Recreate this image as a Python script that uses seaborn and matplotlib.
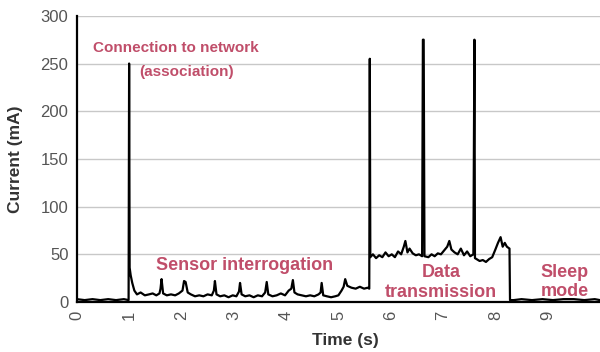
import matplotlib
matplotlib.use("Agg")
import matplotlib.pyplot as plt
import seaborn as sns
import pandas as pd

# ---- data (time in s, current in mA) ----
time_idle = [0.00, 0.15, 0.30, 0.45, 0.60, 0.75, 0.90, 0.99]
current_idle = [3, 2, 3, 2, 3, 2, 3, 2]

time_assoc = [1.00, 1.01, 1.03, 1.06, 1.10]
current_assoc = [250, 36, 28, 20, 12]

time_sensor = [1.15, 1.22, 1.30, 1.38, 1.45, 1.52, 1.58, 1.60, 1.62, 1.65,
               1.72, 1.80, 1.88, 1.95, 2.02, 2.05, 2.08, 2.12, 2.18, 2.26,
               2.34, 2.42, 2.50, 2.58, 2.62, 2.64, 2.67, 2.74, 2.82, 2.90,
               2.98, 3.05, 3.10, 3.12, 3.15, 3.22, 3.30, 3.38, 3.46, 3.54,
               3.60, 3.63, 3.66, 3.74, 3.82, 3.90, 3.98, 4.05, 4.10, 4.13,
               4.16, 4.22, 4.30, 4.38, 4.46, 4.54, 4.62, 4.66, 4.68, 4.71,
               4.78, 4.86, 4.94, 5.00, 5.06, 5.10, 5.13, 5.17, 5.25, 5.33,
               5.41, 5.49, 5.56, 5.59]
current_sensor = [8, 10, 7, 8, 9, 7, 9, 14, 24, 9,
                  7, 8, 7, 9, 12, 22, 21, 10, 8, 6,
                  7, 6, 8, 7, 12, 22, 8, 6, 7, 5,
                  7, 6, 11, 20, 8, 6, 7, 5, 7, 6,
                  10, 21, 8, 6, 7, 9, 7, 12, 14, 23,
                  10, 8, 7, 6, 7, 6, 8, 10, 20, 7,
                  6, 5, 6, 7, 12, 16, 24, 17, 15, 14,
                  16, 14, 15, 14]

time_tx = [5.60, 5.61, 5.66, 5.72, 5.78, 5.84, 5.90, 5.96, 6.02, 6.08,
           6.14, 6.20, 6.25, 6.28, 6.32, 6.36, 6.42, 6.48, 6.54, 6.60,
           6.615, 6.630, 6.645, 6.72, 6.78, 6.84, 6.90, 6.96, 7.02, 7.08,
           7.12, 7.16, 7.22, 7.28, 7.34, 7.40, 7.46, 7.52, 7.58, 7.60,
           7.61, 7.64, 7.70, 7.76, 7.82, 7.88, 7.94, 8.00, 8.05, 8.10,
           8.14, 8.18, 8.22, 8.27]
current_tx = [255, 47, 50, 46, 49, 47, 52, 48, 50, 47,
              53, 50, 58, 64, 52, 56, 51, 49, 50, 48,
              275, 275, 48, 47, 50, 48, 51, 50, 54, 58,
              64, 55, 52, 50, 56, 49, 53, 48, 50, 275,
              46, 45, 43, 44, 42, 45, 47, 55, 62, 68,
              58, 62, 58, 56]

time_sleep = [8.28, 8.35, 8.50, 8.70, 8.90, 9.10, 9.30, 9.50, 9.70, 9.90, 10.00]
current_sleep = [2, 2, 3, 2, 3, 2, 3, 3, 2, 3, 2]

x_ticks = [0, 1, 2, 3, 4, 5, 6, 7, 8, 9]
y_ticks = [0, 50, 100, 150, 200, 250, 300]

df = pd.DataFrame({
    "t": time_idle + time_assoc + time_sensor + time_tx + time_sleep,
    "i": current_idle + current_assoc + current_sensor + current_tx + current_sleep,
})

sns.set_style("white")
plt.rcParams["font.family"] = ["Liberation Sans", "DejaVu Sans"]

fig = plt.figure(figsize=(6.0, 3.52), dpi=100)
ax = fig.add_axes([0.128, 0.142, 0.872, 0.813])

ax.yaxis.grid(True, color="#c8c8c8", linewidth=1.0)
ax.set_axisbelow(True)

sns.lineplot(data=df, x="t", y="i", ax=ax, color="black", linewidth=1.6,
             estimator=None, sort=False)

ax.set_xlim(0, 10)
ax.set_ylim(0, 300)
ax.set_xticks(x_ticks)
ax.set_yticks(y_ticks)
ax.set_xticklabels([str(v) for v in x_ticks], rotation=90, fontsize=12, color="#555555")
ax.set_yticklabels([str(v) for v in y_ticks], fontsize=12, color="#555555")
ax.tick_params(axis="x", length=0, pad=6)
ax.tick_params(axis="y", length=0, pad=6)

for side in ["top", "right"]:
    ax.spines[side].set_visible(False)
for side in ["left", "bottom"]:
    ax.spines[side].set_color("black")
    ax.spines[side].set_linewidth(1.6)

ax.set_xlabel("Time (s)", fontsize=12.5, fontweight="bold", color="#333333")
ax.set_ylabel("Current (mA)", fontsize=12.5, fontweight="bold", color="#333333")
ax.xaxis.set_label_coords(0.513, -0.108)
ax.yaxis.set_label_coords(-0.103, 0.5)

red = "#c04e6a"
kw = dict(color=red, fontweight="bold", ha="center", va="center")
ax.text(1.90, 266, "Connection to network", fontsize=11, **kw)
ax.text(2.09, 241, "(association)", fontsize=11, **kw)
ax.text(3.21, 38, "Sensor interrogation", fontsize=13, **kw)
ax.text(6.96, 31, "Data", fontsize=13, **kw)
ax.text(6.96, 10, "transmission", fontsize=13, **kw)
ax.text(9.33, 31, "Sleep", fontsize=13, **kw)
ax.text(9.33, 11, "mode", fontsize=13, **kw)

fig.savefig("out.png", dpi=100)
